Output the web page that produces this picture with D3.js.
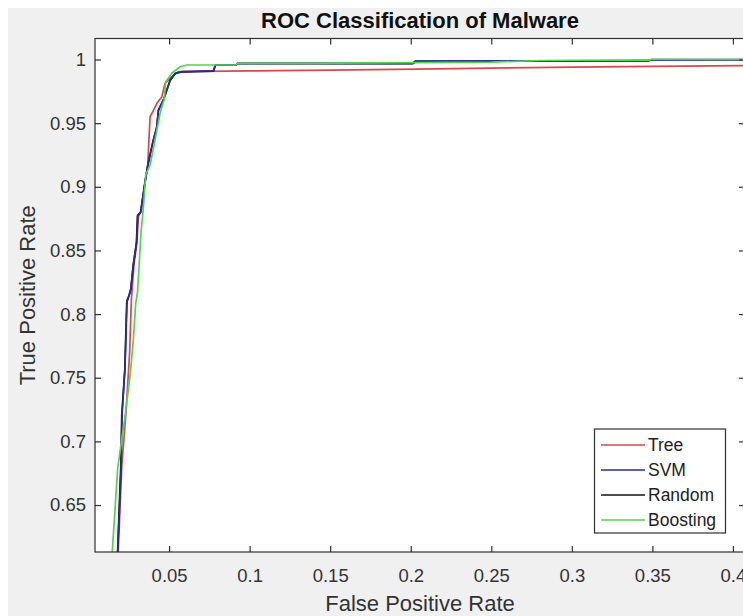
<!DOCTYPE html>
<html>
<head>
<meta charset="utf-8">
<script src="https://cdn.jsdelivr.net/npm/d3@7"></script>
<style>
  body { margin: 0; background: #ffffff; }
  svg { display: block; font-family: "Liberation Sans", Arial, sans-serif; }
</style>
</head>
<body>
<div id="chart"></div>
<script>
// ROC curves (false positive rate, true positive rate)
const treeFpr = [0.0172, 0.0184, 0.0206, 0.0231, 0.0241, 0.0255, 0.0266, 0.0282, 0.0300, 0.0310, 0.0328, 0.0352, 0.0368, 0.0372, 0.0378, 0.0382, 0.0388, 0.0424, 0.0455, 0.0475, 0.0517, 0.0558, 0.1000, 0.1500, 0.2030, 0.2500, 0.3000, 0.3500, 0.4100];
const treeTpr = [0.5800, 0.6131, 0.6800, 0.7207, 0.7404, 0.7700, 0.8120, 0.8390, 0.8560, 0.8770, 0.8810, 0.9040, 0.9171, 0.9300, 0.9450, 0.9551, 0.9564, 0.9656, 0.9708, 0.9813, 0.9865, 0.9904, 0.9910, 0.9916, 0.9925, 0.9932, 0.9940, 0.9946, 0.9952];

const svmFpr = [0.0170, 0.0181, 0.0202, 0.0208, 0.0226, 0.0239, 0.0252, 0.0262, 0.0278, 0.0299, 0.0305, 0.0324, 0.0351, 0.0368, 0.0372, 0.0402, 0.0424, 0.0433, 0.0465, 0.0486, 0.0506, 0.0537, 0.0579, 0.0774, 0.0786, 0.0915, 0.0923, 0.2020, 0.2030, 0.2800, 0.3491, 0.4100];
const svmTpr = [0.5800, 0.6131, 0.6801, 0.7207, 0.7577, 0.8111, 0.8150, 0.8200, 0.8386, 0.8569, 0.8778, 0.8804, 0.9040, 0.9171, 0.9200, 0.9368, 0.9472, 0.9603, 0.9682, 0.9760, 0.9839, 0.9892, 0.9904, 0.9910, 0.9957, 0.9957, 0.9969, 0.9969, 0.9988, 0.9990, 0.9994, 0.9998];

const randomFpr = [0.0168, 0.0180, 0.0200, 0.0206, 0.0225, 0.0237, 0.0250, 0.0262, 0.0277, 0.0297, 0.0304, 0.0323, 0.0350, 0.0367, 0.0373, 0.0401, 0.0423, 0.0434, 0.0464, 0.0485, 0.0507, 0.0538, 0.0580, 0.0776, 0.0788, 0.0915, 0.0925, 0.2010, 0.2025, 0.3480, 0.3495, 0.4100];
const randomTpr = [0.5800, 0.6131, 0.6801, 0.7207, 0.7560, 0.8090, 0.8140, 0.8190, 0.8380, 0.8560, 0.8770, 0.8800, 0.9035, 0.9165, 0.9195, 0.9360, 0.9465, 0.9600, 0.9680, 0.9757, 0.9836, 0.9890, 0.9902, 0.9908, 0.9955, 0.9955, 0.9968, 0.9968, 0.9986, 0.9990, 1.0000, 1.0000];

const boostFpr = [0.0135, 0.0147, 0.0181, 0.0226, 0.0257, 0.0278, 0.0293, 0.0304, 0.0326, 0.0340, 0.0355, 0.0382, 0.0413, 0.0444, 0.0455, 0.0469, 0.0479, 0.0517, 0.0568, 0.0610, 0.0915, 0.0923, 0.1439, 0.1532, 0.2500, 0.2807, 0.3480, 0.3491, 0.4100];
const boostTpr = [0.5800, 0.6131, 0.6791, 0.7192, 0.7508, 0.7797, 0.8087, 0.8174, 0.8647, 0.8831, 0.9093, 0.9171, 0.9368, 0.9577, 0.9629, 0.9682, 0.9826, 0.9892, 0.9943, 0.9957, 0.9957, 0.9969, 0.9969, 0.9972, 0.9980, 0.9992, 0.9994, 1.0000, 1.0000];

const seriesNames = ["Tree", "SVM", "Random", "Boosting"];
const xTicks = [0.05, 0.1, 0.15, 0.2, 0.25, 0.3, 0.35, 0.4];
const yTicks = [0.65, 0.7, 0.75, 0.8, 0.85, 0.9, 0.95, 1];

const series = [
    { name: seriesNames[0], fpr: treeFpr, tpr: treeTpr, color: "#d9484c", z: 0 },
    { name: seriesNames[1], fpr: svmFpr, tpr: svmTpr, color: "#2a2aa0", z: 2 },
    { name: seriesNames[2], fpr: randomFpr, tpr: randomTpr, color: "#141414", z: 1 },
    { name: seriesNames[3], fpr: boostFpr, tpr: boostTpr, color: "#4fd64f", z: 3 }
];

const W = 743, H = 616;
const box = { left: 95, top: 38.5, right: 745, bottom: 552 };

const svg = d3.select("#chart").append("svg")
    .attr("width", W)
    .attr("height", H);

// figure background (thin white strip at top/left, then MATLAB grey)
svg.append("rect").attr("width", W).attr("height", H).attr("fill", "#ffffff");
svg.append("rect").attr("x", 8).attr("y", 8).attr("width", W - 8).attr("height", H - 8).attr("fill", "#f0f0f0");

const xScale = d3.scaleLinear().domain([0.004, 0.4075]).range([box.left, box.right]);
const yScale = d3.scaleLinear().domain([0.6131, 1.0165]).range([box.bottom, box.top]);

svg.append("rect")
    .attr("x", box.left).attr("y", box.top)
    .attr("width", box.right - box.left).attr("height", box.bottom - box.top)
    .attr("fill", "#ffffff");

svg.append("clipPath").attr("id", "plot-clip")
    .append("rect")
    .attr("x", box.left).attr("y", box.top)
    .attr("width", box.right - box.left).attr("height", box.bottom - box.top);

const line = d3.line()
    .x(d => xScale(d[0]))
    .y(d => yScale(d[1]));

svg.append("g")
    .attr("clip-path", "url(#plot-clip)")
    .selectAll("path")
    .data(series.slice().sort((a, b) => a.z - b.z))
    .enter()
    .append("path")
    .attr("d", s => line(s.fpr.map((f, i) => [f, s.tpr[i]])))
    .attr("fill", "none")
    .attr("stroke", s => s.color)
    .attr("stroke-width", 1.7)
    .attr("stroke-linejoin", "round");

const axisColor = "#303030";

function styleAxis(g) {
    g.select(".domain").remove();
    g.selectAll(".tick line").attr("stroke", axisColor).attr("stroke-width", 1.2);
    g.selectAll(".tick text")
        .attr("fill", "#333333")
        .style("font-family", "'Liberation Sans', Arial, sans-serif")
        .style("font-size", "18.5px");
}

svg.append("g")
    .attr("transform", `translate(0,${box.bottom})`)
    .call(d3.axisBottom(xScale).tickValues(xTicks).tickSizeInner(-6).tickSizeOuter(0)
        .tickPadding(17).tickFormat(d3.format("")))
    .call(styleAxis);

svg.append("g")
    .attr("transform", `translate(0,${box.top})`)
    .call(d3.axisTop(xScale).tickValues(xTicks).tickSizeInner(-6).tickSizeOuter(0).tickFormat(""))
    .call(styleAxis);

svg.append("g")
    .attr("transform", `translate(${box.left},0)`)
    .call(d3.axisLeft(yScale).tickValues(yTicks).tickSizeInner(-6).tickSizeOuter(0)
        .tickPadding(9).tickFormat(d3.format("")))
    .call(styleAxis);

svg.append("g")
    .attr("transform", `translate(${box.right},0)`)
    .call(d3.axisRight(yScale).tickValues(yTicks).tickSizeInner(-6).tickSizeOuter(0).tickFormat(""))
    .call(styleAxis);

svg.append("rect")
    .attr("x", box.left).attr("y", box.top)
    .attr("width", box.right - box.left).attr("height", box.bottom - box.top)
    .attr("fill", "none")
    .attr("stroke", axisColor)
    .attr("stroke-width", 1.2);

// title and axis labels
svg.append("text")
    .attr("x", (box.left + box.right) / 2)
    .attr("y", 28)
    .attr("text-anchor", "middle")
    .attr("fill", "#111111")
    .style("font-size", "22px")
    .style("font-weight", "bold")
    .text("ROC Classification of Malware");

svg.append("text")
    .attr("x", (box.left + box.right) / 2)
    .attr("y", 611)
    .attr("text-anchor", "middle")
    .attr("fill", "#333333")
    .style("font-size", "22px")
    .text("False Positive Rate");

svg.append("text")
    .attr("transform", `translate(35,${(box.top + box.bottom) / 2}) rotate(-90)`)
    .attr("text-anchor", "middle")
    .attr("fill", "#333333")
    .style("font-size", "22px")
    .text("True Positive Rate");

// legend
const legend = svg.append("g");
legend.append("rect")
    .attr("x", 594.5).attr("y", 429)
    .attr("width", 131).attr("height", 104)
    .attr("fill", "#ffffff")
    .attr("stroke", axisColor)
    .attr("stroke-width", 1.2);

const rowY = d3.scalePoint().domain(seriesNames).range([445, 520]);

const item = legend.selectAll("g.item")
    .data(series)
    .enter()
    .append("g")
    .attr("class", "item")
    .attr("transform", d => `translate(0,${rowY(d.name)})`);

item.append("line")
    .attr("x1", 601).attr("x2", 645)
    .attr("stroke", d => d.color)
    .attr("stroke-width", 1.7);

item.append("text")
    .attr("x", 648)
    .attr("dy", "0.35em")
    .attr("fill", "#222222")
    .style("font-size", "17.5px")
    .text(d => d.name);
</script>
</body>
</html>
